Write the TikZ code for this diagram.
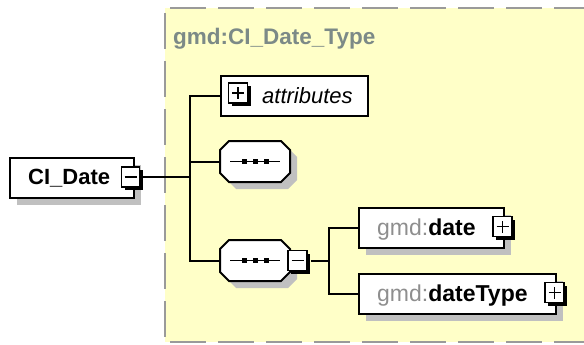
\documentclass[tikz,border=0pt]{standalone}
\usepackage{fontspec}
\setmainfont{Liberation Sans}
\usetikzlibrary{shadows}
\definecolor{paneyellow}{HTML}{FFFFC8}
\definecolor{panedash}{HTML}{9A9A9A}
\definecolor{shadowgray}{HTML}{C0C0C0}
\definecolor{prefixgray}{HTML}{8E8E8E}
\definecolor{typegray}{HTML}{7C8A87}
\tikzset{
  wire/.style={line width=2pt, draw=black},
  elembox/.style={rectangle, draw=black, line width=2pt, fill=white, inner sep=0pt,
    anchor=north west,
    drop shadow={shadow xshift=7pt, shadow yshift=-7pt, fill=shadowgray, opacity=1}},
  attrbox/.style={rectangle, draw=black, line width=2pt, fill=white, inner sep=0pt,
    anchor=north west},
  btn/.style={rectangle, draw=black, line width=1.5pt, fill=white, inner sep=0pt,
    minimum width=19pt, minimum height=20pt,
    drop shadow={shadow xshift=3pt, shadow yshift=-3pt, fill=black, opacity=1}},
  sign/.style={line width=1.5pt, draw=black},
  seqframe/.style={rectangle, inner sep=0pt, anchor=north west,
    minimum width=70pt, minimum height=41pt},
  octa/.style={insert path={-- ++(9,-9) -- ++(52,0) -- ++(9,9) -- ++(0,23)
    -- ++(-9,9) -- ++(-52,0) -- ++(-9,-9) -- cycle}},
  lbl/.style={anchor=base west, inner sep=0pt, font=\fontsize{22}{26}\selectfont},
  panedashes/.style={draw=panedash, line width=2.5pt, dash pattern=on 36pt off 12pt,
    dash phase=43pt},
}
\newcommand{\seqsymbol}[1]{%
  \draw[line width=1.5pt] ([xshift=-25pt]#1.center) -- ([xshift=25pt]#1.center);
  \foreach \dx in {-11,0,11}
    \fill ([shift={(\dx-2.5,-2.5)}]#1.center) rectangle ++(5,5);
}
\begin{document}
\begin{tikzpicture}[x=1pt, y=-1pt]
\useasboundingbox (0,0) rectangle (584,345);

% complex type pane
\fill[paneyellow] (165,8) rectangle (584,342);
\draw[panedashes] (165,8) -- (584,8);
\draw[panedashes] (165,8) -- (165,342);
\draw[panedashes] (165,342) -- (584,342);
\node[lbl, font=\fontsize{22.5}{26}\selectfont\bfseries, text=typegray] (title)
  at (173,45) {gmd:CI\_Date\_Type};

% root element
\node[elembox, minimum width=124pt, minimum height=40pt] (cidate) at (9,157) {};
\node[lbl, font=\fontsize{22}{26}\selectfont\bfseries] (cidatetext) at (28,184) {CI\_Date};
\node[btn, minimum width=18pt] (cidatebtn) at (130.5,177) {};
\draw[sign] ([xshift=-6pt]cidatebtn.center) -- ([xshift=6pt]cidatebtn.center);

% attributes
\node[attrbox, minimum width=147pt, minimum height=40pt] (attrs) at (220,75) {};
\node[btn] (attrsbtn) at (238,93) {};
\draw[sign] ([xshift=-6pt]attrsbtn.center) -- ([xshift=6pt]attrsbtn.center)
            ([yshift=-6pt]attrsbtn.center) -- ([yshift=6pt]attrsbtn.center);
\node[lbl, font=\fontsize{22}{26}\selectfont\itshape] (attrstext) at (262,103) {attributes};

% first sequence
\node[seqframe] (seqA) at (220,141) {};
\fill[shadowgray] ([shift={(7,16)}]seqA.north west) [octa];
\filldraw[fill=white, draw=black, line width=2pt] ([yshift=-9pt]seqA.north west) [octa];
\seqsymbol{seqA}

% second sequence
\node[seqframe] (seqB) at (220,240) {};
\fill[shadowgray] ([shift={(7,16)}]seqB.north west) [octa];
\filldraw[fill=white, draw=black, line width=2pt] ([yshift=-9pt]seqB.north west) [octa];
\seqsymbol{seqB}
\node[btn] (seqBbtn) at (297.5,260.5) {};
\draw[sign] ([xshift=-6pt]seqBbtn.center) -- ([xshift=6pt]seqBbtn.center);

% child elements
\node[elembox, minimum width=145pt, minimum height=40pt] (datebox) at (358,207) {};
\node[lbl, font=\fontsize{23}{26}\selectfont] (datetext) at (377,235)
  {\textcolor{prefixgray}{gmd:}\textbf{date}};
\node[btn] (datebtn) at (502.5,226.5) {};
\draw[sign] ([xshift=-6pt]datebtn.center) -- ([xshift=6pt]datebtn.center)
            ([yshift=-6pt]datebtn.center) -- ([yshift=6pt]datebtn.center);

\node[elembox, minimum width=197pt, minimum height=40pt] (typebox) at (358,273) {};
\node[lbl, font=\fontsize{23}{26}\selectfont] (typetext) at (377,301)
  {\textcolor{prefixgray}{gmd:}\textbf{dateType}};
\node[btn] (typebtn) at (554.5,292.5) {};
\draw[sign] ([xshift=-6pt]typebtn.center) -- ([xshift=6pt]typebtn.center)
            ([yshift=-6pt]typebtn.center) -- ([yshift=6pt]typebtn.center);

% connectors
\coordinate (trunk) at (190,177);
\coordinate (fork) at (329,260.5);
\draw[wire] (cidatebtn.east) -- (trunk);
\draw[wire] (attrs.west) -- (attrs.west -| trunk) -- (seqB.west -| trunk) -- (seqB.west);
\draw[wire] (seqA.west) -- (seqA.west -| trunk);
\draw[wire] ([xshift=3pt]seqBbtn.east) -- (fork);
\draw[wire] (datebox.west) -- (datebox.west -| fork) -- (typebox.west -| fork) -- (typebox.west);
\end{tikzpicture}
\end{document}
